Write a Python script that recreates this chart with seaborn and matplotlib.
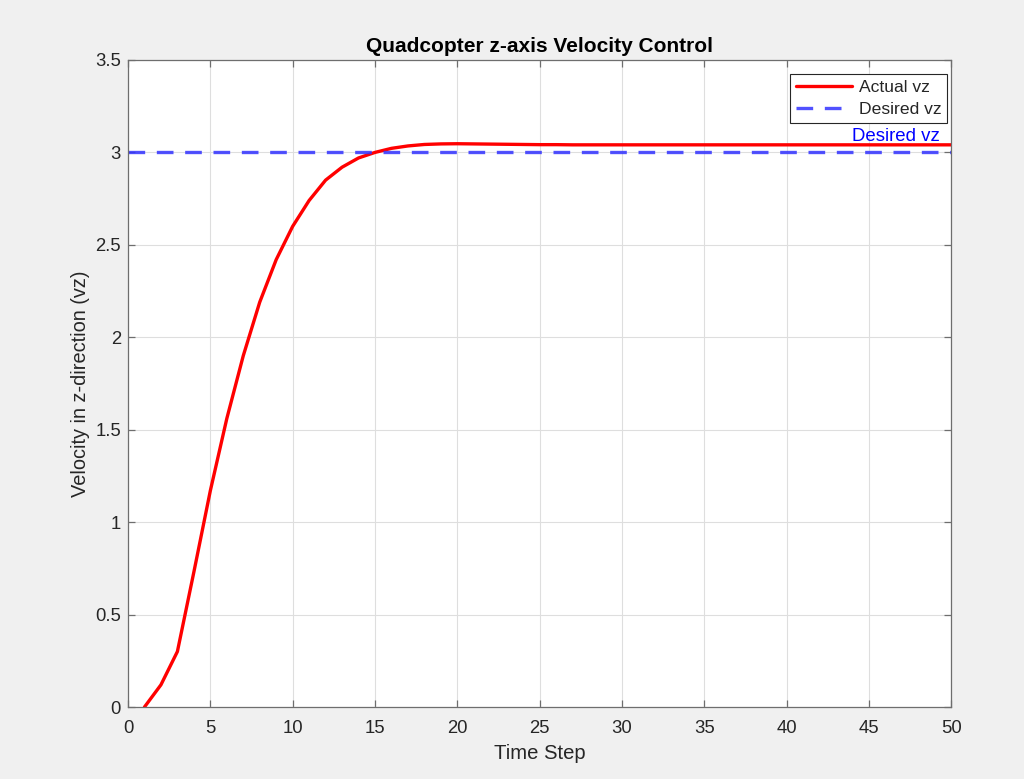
import matplotlib
matplotlib.use("Agg")
import matplotlib.pyplot as plt
import seaborn as sns
import numpy as np
import pandas as pd

time_step = list(range(1, 51))
actual_vz = [0.0, 0.12, 0.30, 0.73, 1.17, 1.56, 1.90, 2.19, 2.42, 2.60,
             2.74, 2.85, 2.92, 2.97, 3.00, 3.022, 3.035, 3.043, 3.046, 3.047,
             3.046, 3.045, 3.044, 3.043, 3.042, 3.042, 3.041, 3.041, 3.041, 3.041,
             3.041, 3.041, 3.041, 3.041, 3.041, 3.041, 3.041, 3.041, 3.041, 3.041,
             3.041, 3.041, 3.041, 3.041, 3.041, 3.041, 3.041, 3.041, 3.041, 3.041]
desired_vz = 3.0
title = "Quadcopter z-axis Velocity Control"
xlabel = "Time Step"
ylabel = "Velocity in z-direction (vz)"

sns.set_theme(style="whitegrid")
plt.rcParams['font.family'] = ['Liberation Sans', 'DejaVu Sans']

fig = plt.figure(figsize=(10.24, 7.79), dpi=100, facecolor="#f0f0f0")
ax = fig.add_axes([0.125, 0.0924, 0.804, 0.8306])
ax.set_facecolor("white")

df = pd.DataFrame({"t": time_step, "vz": actual_vz})
sns.lineplot(data=df, x="t", y="vz", ax=ax, color="#ff0000", linewidth=2.4, label="Actual vz")
ax.axhline(desired_vz, color="#3333ff", linestyle=(0, (5, 3.5)), linewidth=2.4, alpha=0.85, label="Desired vz")
ax.text(49.3, desired_vz + 0.04, "Desired vz", color="#0000ff", fontsize=13.4, ha="right", va="bottom")

ax.set_xlim(0, 50)
ax.set_ylim(0, 3.5)
ax.set_xticks(np.arange(0, 51, 5))
ax.set_yticks(np.arange(0, 3.51, 0.5))
ax.set_yticklabels(["0", "0.5", "1", "1.5", "2", "2.5", "3", "3.5"])
ax.grid(True, color="#dedede", linewidth=0.8)
for s in ax.spines.values():
    s.set_visible(True)
    s.set_color("#6e6e6e")
    s.set_linewidth(0.9)
ax.tick_params(direction="in", length=5, width=0.9, color="#6e6e6e", labelcolor="#262626",
               labelsize=13.3, top=True, right=True, bottom=True, left=True)
ax.tick_params(axis="x", pad=9.5)
ax.tick_params(axis="y", pad=5)
ax.set_title(title, fontsize=15, fontweight="bold", color="black", pad=6)
ax.set_xlabel(xlabel, fontsize=14.6, color="#262626", labelpad=5)
ax.set_ylabel(ylabel, fontsize=14.4, color="#262626", labelpad=4)

leg = ax.legend(loc="upper right", bbox_to_anchor=(0.9951, 0.9784), borderaxespad=0,
                fontsize=12.6, frameon=True, fancybox=False, edgecolor="#262626",
                framealpha=1, handlelength=3.2, handletextpad=0.35,
                borderpad=0.35, labelspacing=0.35)
leg.get_frame().set_linewidth(0.8)

fig.savefig("out.png", dpi=100, facecolor=fig.get_facecolor())
